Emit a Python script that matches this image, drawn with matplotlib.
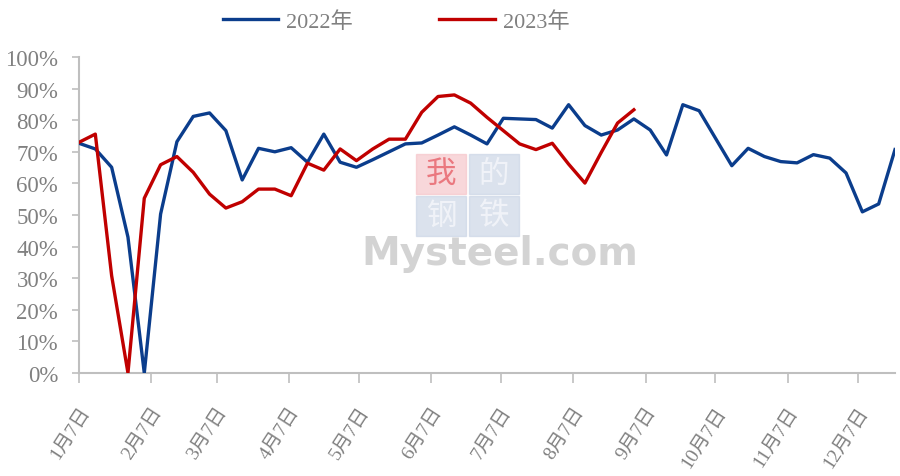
import numpy as np
import matplotlib.pyplot as plt
from matplotlib.patches import Rectangle

# weekly utilisation rate (%), first point on 1月7日
rate_2022 = [72.7, 70.9, 65.1, 43.0, 0.0, 50.3, 73.2, 81.2, 82.3, 76.7,
             61.1, 71.1, 70.0, 71.3, 66.7, 75.6, 66.7, 65.1, 67.5, 70.0,
             72.5, 72.8, 75.3, 77.9, 75.3, 72.5, 80.6, 80.4, 80.2, 77.5,
             84.9, 78.3, 75.3, 76.9, 80.4, 76.9, 69.0, 84.9, 83.0, 74.3,
             65.6, 71.1, 68.5, 66.9, 66.5, 69.1, 68.0, 63.3, 51.0, 53.5,
             70.7]
rate_2023 = [73.0, 75.6, 30.8, 0.0, 55.3, 65.9, 68.5, 63.5, 56.6, 52.2,
             54.2, 58.2, 58.2, 56.1, 66.4, 64.2, 70.9, 67.2, 70.9, 74.0,
             74.0, 82.5, 87.5, 88.0, 85.4, 80.9, 76.7, 72.5, 70.7, 72.7,
             66.1, 60.1, 69.8, 79.1, 83.3]
series_names = ['2022年', '2023年']
month_labels = [f'{m}月7日' for m in range(1, 13)]
month_days = [0, 31, 59, 90, 120, 151, 181, 212, 243, 273, 304, 334]  # days after Jan 7
y_ticks = list(range(0, 101, 10))

blue = '#0B3D8C'
red = '#C00000'
grey = '#808080'
axis_grey = '#BFBFBF'
fonts = ['Liberation Serif', 'Noto Sans CJK SC']
plt.rcParams['font.family'] = fonts

fig = plt.figure(figsize=(9, 4.77), dpi=100)
ax = fig.add_axes([79 / 900, 1 - 374 / 477, 816 / 900, 316 / 477])

x22 = np.arange(len(rate_2022)) * 7
x23 = np.arange(len(rate_2023)) * 7
ax.plot(x22, rate_2022, color=blue, lw=2.4, label=series_names[0], zorder=3)
ax.plot(x23, rate_2023, color=red, lw=2.4, label=series_names[1], zorder=3)

ax.set_xlim(0, 350)
ax.set_ylim(0, 100)
ax.set_yticks(y_ticks)
ax.set_yticklabels([f'{v}%' for v in y_ticks], fontsize=16.5, color=grey)
ax.set_xticks(month_days)
ax.set_xticklabels(month_labels, rotation=57, ha='right', va='top',
                   rotation_mode='anchor', fontsize=14, color=grey)

for s in ['top', 'right']:
    ax.spines[s].set_visible(False)
for s in ['left', 'bottom']:
    ax.spines[s].set_color(axis_grey)
    ax.spines[s].set_linewidth(1.5)
ax.tick_params(axis='y', length=5, width=1.2, color=axis_grey, pad=10)
ax.tick_params(axis='x', length=7, width=1.2, color=axis_grey, pad=15)

fig.legend(loc='center', bbox_to_anchor=(0.44, 0.953), ncol=2, frameon=False,
           fontsize=16, handlelength=2.5, handletextpad=0.35, columnspacing=3.9,
           labelcolor=grey)

# watermark
boxes = [('我', 416, 155, '#F6C6CB', '#E8676F'),
         ('的', 469, 155, '#CCD6E6', '#F4F6FA'),
         ('钢', 416, 197, '#CCD6E6', '#F4F6FA'),
         ('铁', 469, 197, '#CCD6E6', '#F4F6FA')]
for ch, bx, by, bg, fg in boxes:
    fig.patches.append(Rectangle((bx / 900, 1 - (by + 40) / 477), 50 / 900, 40 / 477,
                                 transform=fig.transFigure, color=bg, alpha=0.7, zorder=0))
    fig.text((bx + 25) / 900, 1 - (by + 19) / 477, ch, ha='center', va='center',
             fontsize=22, color=fg, family='Noto Sans CJK SC', alpha=0.85, zorder=1)
fig.text(500 / 900, 1 - 254 / 477, 'Mysteel.com', ha='center', va='center',
         fontsize=28, color='#D3D3D3', family='DejaVu Sans', weight='bold', zorder=1)

fig.savefig('out.png', dpi=100)
